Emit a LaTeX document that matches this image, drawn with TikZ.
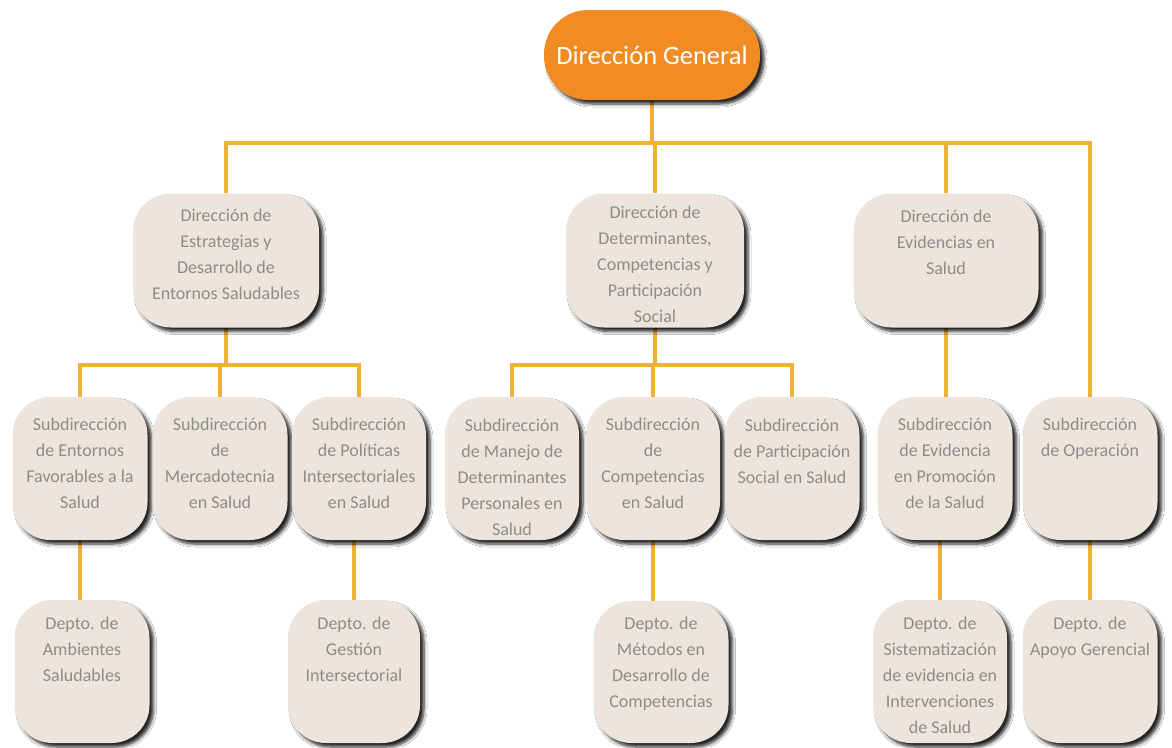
\documentclass[tikz,border=0pt]{standalone}
\usepackage{fontspec}
\setmainfont{Carlito}
\usetikzlibrary{shadows,shadows.blur,backgrounds}
\definecolor{conncol}{RGB}{240,176,58}
\definecolor{boxfill}{RGB}{237,229,219}
\definecolor{boxtext}{RGB}{140,140,140}
\definecolor{topfill}{RGB}{240,140,35}
\newcommand{\bxt}[4]{\parbox[c][#2pt][t]{#1pt}{\centering\fontsize{18}{26}\selectfont\rule{0pt}{#3pt}#4}}
\tikzset{
  conn/.style={draw=conncol, line width=4.5pt},
  orgbox/.style={rectangle, rounded corners=38pt, fill=boxfill, text=boxtext, inner sep=0pt,
    blur shadow={shadow xshift=4pt, shadow yshift=-4pt, shadow blur steps=6, shadow blur radius=3pt, shadow opacity=85}},
  topbox/.style={rectangle, rounded corners=44pt, fill=topfill, text=white, inner sep=0pt,
    minimum width=216pt, minimum height=90pt, font=\fontsize{26.5}{30}\selectfont,
    blur shadow={shadow xshift=4pt, shadow yshift=-4pt, shadow blur steps=6, shadow blur radius=3pt, shadow opacity=85}}
}
\begin{document}
\begin{tikzpicture}[x=1pt,y=-1pt]
\useasboundingbox (0,0) rectangle (1172,747);
% top
\node[topbox] (g) at (652,55) {Dirección General};
% level 2
\node[orgbox] (d1) at (226,260.5) {\bxt{186}{134}{28}{Dirección de\\Estrategias y\\Desarrollo de\\Entornos Saludables}};
\node[orgbox] (d2) at (655,260.5) {\bxt{178}{134}{25}{Dirección de\\Determinantes,\\Competencias y\\Participación\\Social}};
\node[orgbox] (d3) at (946,260.5) {\bxt{185}{134}{29}{Dirección de\\Evidencias en\\Salud}};
% level 3
\node[orgbox] (s1) at (80,468.5) {\bxt{135}{143}{33}{Subdirección\\de Entornos\\Favorables a la\\Salud}};
\node[orgbox] (s2) at (220,468.5) {\bxt{135}{143}{33}{Subdirección\\de\\Mercadotecnia\\en Salud}};
\node[orgbox] (s3) at (359,468.5) {\bxt{134}{143}{33}{Subdirección\\de Políticas\\Intersectoriales\\en Salud}};
\node[orgbox] (s4) at (512,468.5) {\bxt{134}{143}{34}{Subdirección\\de Manejo de\\Determinantes\\Personales en\\Salud}};
\node[orgbox] (s5) at (653,468.5) {\bxt{134}{143}{33}{Subdirección\\de\\Competencias\\en Salud}};
\node[orgbox] (s6) at (792,468.5) {\bxt{135}{143}{34}{Subdirección\\de Participación\\Social en Salud}};
\node[orgbox] (s7) at (945,468.5) {\bxt{135}{143}{33}{Subdirección\\de Evidencia\\en Promoción\\de la Salud}};
\node[orgbox] (s8) at (1090,468.5) {\bxt{135}{143}{33}{Subdirección\\de Operación}};
% level 4
\node[orgbox] (p1) at (82,671.5) {\bxt{135}{143}{29}{Depto. de\\Ambientes\\Saludables}};
\node[orgbox] (p2) at (354,671.5) {\bxt{132}{143}{29}{Depto. de\\Gestión\\Intersectorial}};
\node[orgbox] (p3) at (661,672) {\bxt{135}{142}{28}{Depto. de\\Métodos en\\Desarrollo de\\Competencias}};
\node[orgbox] (p4) at (940,671.5) {\bxt{134}{143}{29}{Depto. de\\Sistematización\\de evidencia en\\Intervenciones\\de Salud}};
\node[orgbox] (p5) at (1090,671.5) {\bxt{135}{143}{29}{Depto. de\\Apoyo Gerencial}};
% connectors
\coordinate (bus0) at (652,143);
\coordinate (bus1) at (225,365);
\coordinate (bus2) at (654,365);
\begin{scope}[on background layer]
\fill[white] (0,0) rectangle (1172,747);
\draw[conn] (g.south) -- (bus0);
\draw[conn] (d1.north) |- (s8.north |- bus0) -- (s8.north);
\draw[conn] (d2.north) -- (d2.north |- bus0);
\draw[conn] (d3.north) -- (d3.north |- bus0);
\draw[conn] (d1.south) -- (d1.south |- bus1);
\draw[conn] (s1.north) |- (s3.north |- bus1) -- (s3.north);
\draw[conn] (s2.north) -- (s2.north |- bus1);
\draw[conn] (d2.south) -- (d2.south |- bus2);
\draw[conn] (s4.north) |- (s6.north |- bus2) -- (s6.north);
\draw[conn] (s5.north) -- (s5.north |- bus2);
\draw[conn] (d3.south) -- (d3.south |- s7.north);
\draw[conn] (s1.south) -- (s1.south |- p1.north);
\draw[conn] (p2.north) -- (p2.north |- s3.south);
\draw[conn] (s5.south) -- (s5.south |- p3.north);
\draw[conn] (p4.north) -- (p4.north |- s7.south);
\draw[conn] (p5.north) -- (p5.north |- s8.south);
\end{scope}
\end{tikzpicture}
\end{document}
